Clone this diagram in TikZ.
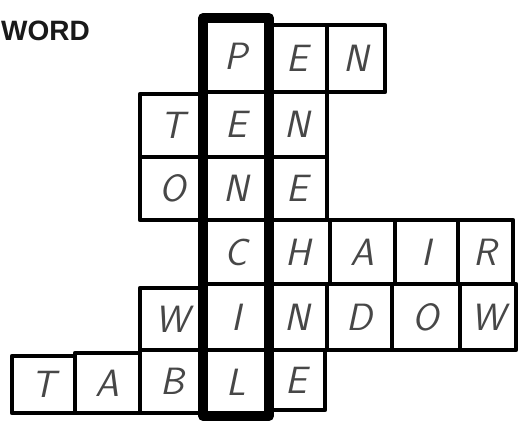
\documentclass[tikz,border=0pt]{standalone}
\usepackage{fontspec}
\newfontfamily\wordfont{Liberation Sans}
\newcommand\letterfont{\sffamily\slshape\fontsize{38}{38}\selectfont}
\newcommand\cellnode[6]{%
  \node[cell, minimum width={#3-#2}, minimum height={#5-#4}] (#1) at ({(#2+#3)/2},{(#4+#5)/2}) {#6};}
\begin{document}
\begin{tikzpicture}[x=1pt,y=-1pt,
  cell/.style={draw=black, line width=4.2pt, inner sep=0pt, line join=round,
    font=\letterfont, text=black!72},
  boldcol/.style={draw=black, line width=9.5pt, line join=round},
  title/.style={font=\wordfont\bfseries\fontsize{28}{28}\selectfont, text=black!90, anchor=west, inner sep=0pt}]
\useasboundingbox (0,0) rectangle (518,422);
\fill[white] (0,0) rectangle (518,422);
\node[title] (word) at (1,31) {WORD};
% row 1
\cellnode{p1}{205}{267}{20}{92}{P}
\cellnode{e1}{267}{327}{25}{92}{E}
\cellnode{n1}{327}{385}{25}{92}{N}
% row 2
\cellnode{t2}{140}{205}{94}{157}{T}
\cellnode{e2}{205}{267}{92}{157}{E}
\cellnode{n2}{267}{327}{92}{157}{N}
% row 3
\cellnode{o3}{140}{205}{157}{220}{O}
\cellnode{n3}{205}{267}{157}{220}{N}
\cellnode{e3}{267}{327}{157}{220}{E}
% row 4
\cellnode{c4}{205}{267}{220}{284}{C}
\cellnode{h4}{267}{330}{220}{284}{H}
\cellnode{a4}{330}{395}{220}{284}{A}
\cellnode{i4}{395}{458}{220}{284}{I}
\cellnode{r4}{458}{513}{220}{284}{R}
% row 5
\cellnode{w5}{140}{205}{288}{350}{W}
\cellnode{i5}{205}{267}{284}{350}{I}
\cellnode{n5}{267}{327}{284}{350}{N}
\cellnode{d5}{327}{392}{284}{350}{D}
\cellnode{o5}{392}{460}{284}{350}{O}
\cellnode{w5b}{460}{516}{284}{350}{W}
% row 6
\cellnode{t6}{12}{75}{356}{413}{T}
\cellnode{a6}{75}{140}{353}{413}{A}
\cellnode{b6}{140}{205}{350}{413}{B}
\cellnode{l6}{205}{267}{350}{414}{L}
\cellnode{e6}{267}{325}{350}{410}{E}
% bold PENCIL column
\draw[boldcol] (p1.north west) rectangle (l6.south east);
\end{tikzpicture}
\end{document}
